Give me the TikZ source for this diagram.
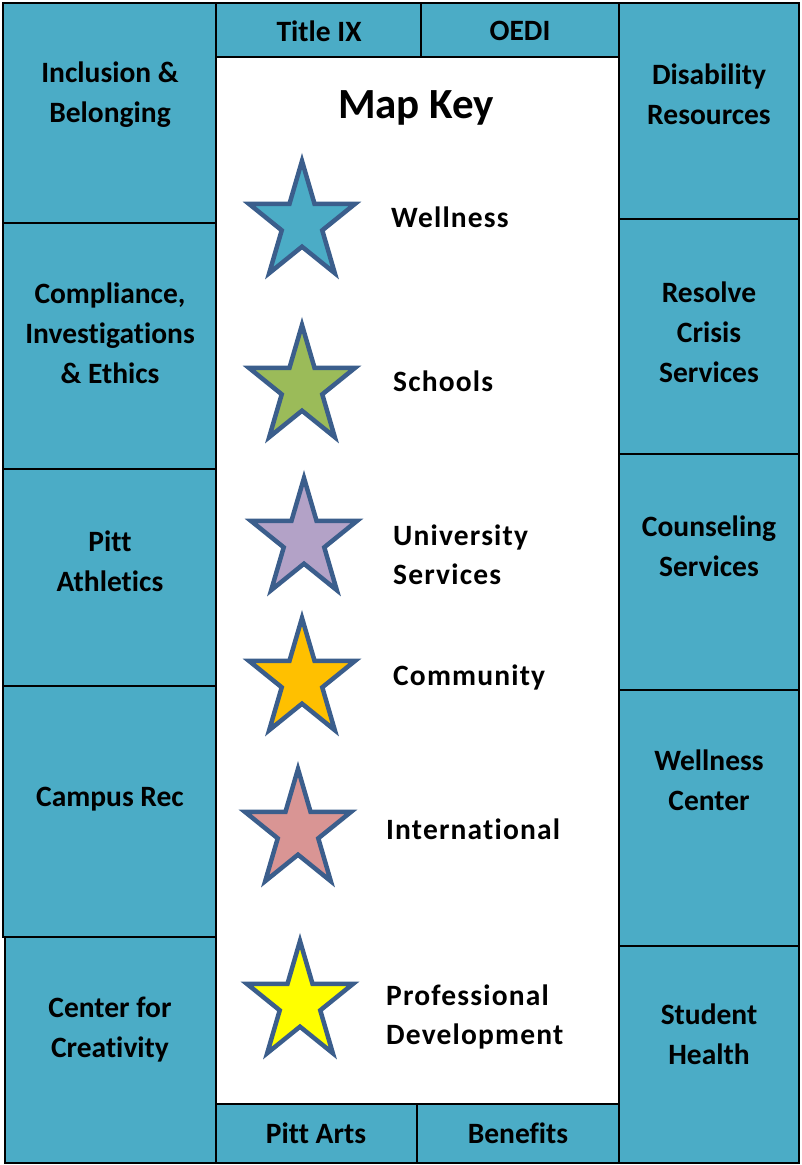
\documentclass[tikz,border=0pt]{standalone}
\usepackage{fontspec}
\setmainfont{Carlito}[Ligatures=NoCommon]
\newfontfamily\keyfont{Carlito}[Ligatures=NoCommon,LetterSpace=4]
\usepackage{xcolor}
\usepackage{tikz}
\usetikzlibrary{shapes.geometric}

\definecolor{aqua}{HTML}{4BACC6}
\definecolor{starline}{HTML}{3B5E8C}
\definecolor{schoolgreen}{HTML}{9BBB59}
\definecolor{lavender}{HTML}{B3A2C7}
\definecolor{amber}{HTML}{FFC000}
\definecolor{rose}{HTML}{D99594}
\definecolor{brightyellow}{HTML}{FFFF00}

\tikzset{
  box/.style={draw=black,line width=2.5pt,fill=aqua},
  lbl/.style={font=\fontsize{29.5}{40}\selectfont\bfseries,align=center,inner sep=0pt},
  keylbl/.style={font=\keyfont\fontsize{29.5}{39}\selectfont\bfseries,inner sep=0pt,
    anchor=west,align=left},
  keystar/.style={star,star points=5,star point ratio=2.618,minimum size=124pt,
    inner sep=0pt,draw=starline,line width=4.5pt,xscale=0.9}
}

\begin{document}
\begin{tikzpicture}[x=1pt,y=-1pt]
\useasboundingbox (0,0) rectangle (801,1165);

\draw [box] (3,3) rectangle (216,223);
\draw [box] (3,223) rectangle (216,469);
\draw [box] (3,469) rectangle (216,686);
\draw [box] (3,686) rectangle (216,937);
\draw [box] (5,937) rectangle (216,1163);
\draw [box] (619,3) rectangle (799,219);
\draw [box] (619,219) rectangle (799,454);
\draw [box] (619,454) rectangle (799,690);
\draw [box] (619,690) rectangle (799,946);
\draw [box] (619,946) rectangle (799,1163);
\draw [box] (216,3) rectangle (421,57);
\draw [box] (421,3) rectangle (619,57);
\draw [box] (216,1104) rectangle (417,1163);
\draw [box] (417,1104) rectangle (619,1163);
\draw [box,fill=white] (216,57) rectangle (619,1104);

\node [lbl] (incl) at (110,95) {Inclusion \&\\Belonging};
\node [lbl] (comp) at (110,333) {Compliance,\\Investigations\\\& Ethics};
\node [lbl] (athl) at (110,561) {Pitt\\Athletics};
\node [lbl] (rec) at (110,799) {Campus Rec};
\node [lbl] (crea) at (110,1030) {Center for\\Creativity};
\node [lbl] (disab) at (709,94) {Disability\\Resources};
\node [lbl] (resolve) at (709,332) {Resolve\\Crisis\\Services};
\node [lbl] (couns) at (709,546) {Counseling\\Services};
\node [lbl] (wellc) at (709,780) {Wellness\\Center};
\node [lbl] (health) at (709,1034) {Student\\Health};
\node [lbl] (title) at (319,31) {Title IX};
\node [lbl] (oedi) at (520,31) {OEDI};
\node [lbl] (arts) at (316,1133) {Pitt Arts};
\node [lbl] (benefits) at (518,1133) {Benefits};

\node [lbl,font=\fontsize{43}{50}\selectfont\bfseries] (mapkey) at (416,108) {Map Key};

\node [keystar,fill=aqua] (s1) at (302,223) {};
\node [keystar,fill=schoolgreen] (s2) at (302,387) {};
\node [keystar,fill=lavender] (s3) at (304,540) {};
\node [keystar,fill=amber] (s4) at (302,680) {};
\node [keystar,fill=rose] (s5) at (298,831) {};
\node [keystar,fill=brightyellow] (s6) at (300,1003) {};

\node [keylbl] (k1) at (391,217) {Wellness};
\node [keylbl] (k2) at (393,381) {Schools};
\node [keylbl] (k3) at (393,555) {University\\Services};
\node [keylbl] (k4) at (393,677) {Community};
\node [keylbl] (k5) at (386,829) {International};
\node [keylbl] (k6) at (386,1017) {Professional\\Development};
\end{tikzpicture}
\end{document}
